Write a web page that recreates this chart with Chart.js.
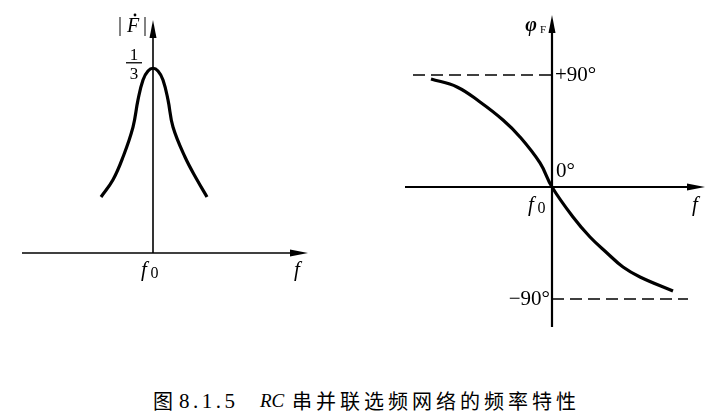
<!DOCTYPE html>
<html>
<head>
<meta charset="utf-8">
<script src="https://cdn.jsdelivr.net/npm/chart.js@4"></script>
<style>
body { margin: 0; background: #fff; width: 723px; height: 419px; position: relative; overflow: hidden; }
.box { position: absolute; top: 0; }
#magBox { left: 0; width: 360px; height: 300px; }
#phaseBox { left: 360px; width: 363px; height: 340px; }
.cap { position: absolute; top: 389px; line-height: 24px; font-size: 20px; color: #000; white-space: nowrap; }
.cjk { font-family: "Noto Sans CJK SC", sans-serif; }
.num { font-family: "Liberation Serif", serif; }
</style>
</head>
<body>
<div class="box" id="magBox"><canvas id="magChart" width="360" height="300"></canvas></div>
<div class="box" id="phaseBox"><canvas id="phaseChart" width="363" height="340"></canvas></div>

<span class="cap cjk" style="left:153px">图</span>
<span class="cap num" style="left:179px;font-size:21px;letter-spacing:3.5px">8.1.5</span>
<span class="cap num" style="left:260px;font-style:italic;font-size:19px">RC</span>
<span class="cap cjk" style="left:292px;letter-spacing:4px">串并联选频网络的频率特性</span>

<script>
// |F| vs f  (f measured from f0, arbitrary units)
const magFreq = [-0.52, -0.40, -0.30, -0.20, -0.15, -0.10, -0.05, 0, 0.05, 0.10, 0.15, 0.20, 0.32, 0.44, 0.54];
const magValue = [0.101, 0.132, 0.173, 0.227, 0.276, 0.312, 0.328, 0.333, 0.328, 0.312, 0.276, 0.227, 0.173, 0.132, 0.101];

// phase vs f (degrees)
const phaseFreq = [-1.21, -0.95, -0.72, -0.49, -0.32, -0.12, 0, 0.21, 0.38, 0.55, 0.71, 0.88, 1.21];
const phaseDeg = [86.8, 80.4, 68.3, 53.8, 40.2, 19.3, 0, -24.1, -40.2, -53.0, -64.3, -72.3, -83.6];

// dashed limits
const plusLimitX = [-1.39, 0];
const minusLimitX = [0, 1.36];
const phaseTicks = ["+90°", "0°", "-90°"];

const serif = "'Liberation Serif', 'Times New Roman', serif";

function arrowHead(ctx, x, y, dir) {
    const len = 18, half = 3.5;
    ctx.beginPath();
    if (dir === "up") {
        ctx.moveTo(x, y); ctx.lineTo(x - half, y + len); ctx.lineTo(x + half, y + len);
    } else {
        ctx.moveTo(x, y); ctx.lineTo(x - len, y - half); ctx.lineTo(x - len, y + half);
    }
    ctx.closePath();
    ctx.fill();
}

function seg(ctx, x1, y1, x2, y2) {
    ctx.beginPath(); ctx.moveTo(x1, y1); ctx.lineTo(x2, y2); ctx.stroke();
}

function fSub(ctx, x, y, size) {
    ctx.font = `italic ${size}px ${serif}`;
    ctx.textAlign = "left";
    ctx.fillText("f", x, y);
    ctx.font = `${Math.round(size * 0.75)}px ${serif}`;
    ctx.fillText("0", x + size * 0.45, y + 4);
}

const axesPlugin = {
    id: "axes",
    beforeDatasetsDraw(chart, args, opts) {
        const { ctx, chartArea: a, scales: { x, y } } = chart;
        const x0 = x.getPixelForValue(0), y0 = y.getPixelForValue(0);
        ctx.save();
        ctx.strokeStyle = "#000"; ctx.fillStyle = "#000";
        ctx.lineWidth = opts.lw;
        seg(ctx, a.left, y0, a.right - 12, y0);
        arrowHead(ctx, a.right, y0, "right");
        seg(ctx, x0, a.bottom, x0, a.top + 12);
        arrowHead(ctx, x0, a.top, "up");
        ctx.restore();
    },
    afterDatasetsDraw(chart, args, opts) {
        const { ctx } = chart;
        ctx.save();
        ctx.fillStyle = "#000";
        ctx.textBaseline = "middle";
        opts.labels(ctx, chart.scales.x, chart.scales.y, chart.chartArea);
        ctx.restore();
    }
};

function magLabels(ctx, x, y, a) {
    const x0 = x.getPixelForValue(0);
    const yPeak = y.getPixelForValue(Math.max(...magValue));
    // |F dot|
    ctx.font = `20px ${serif}`; ctx.textAlign = "center";
    ctx.fillText("|", x0 - 33, 26);
    ctx.fillText("|", x0 - 8, 26);
    ctx.font = `italic 20px ${serif}`;
    ctx.fillText("F", x0 - 20, 27);
    ctx.beginPath(); ctx.arc(x0 - 18, 15, 1.4, 0, Math.PI * 2); ctx.fill();
    // 1/3
    ctx.font = `17px ${serif}`;
    ctx.fillText("1", x0 - 19, yPeak - 13);
    ctx.fillText("3", x0 - 19, yPeak + 6);
    ctx.lineWidth = 1.3;
    seg(ctx, x0 - 27, yPeak - 5.5, x0 - 11, yPeak - 5.5);
    // f0 and f
    const yAx = y.getPixelForValue(0);
    fSub(ctx, x0 - 12, yAx + 17, 21);
    ctx.font = `italic 21px ${serif}`; ctx.textAlign = "center";
    ctx.fillText("f", a.right - 11, yAx + 17);
}

function phaseLabels(ctx, x, y, a) {
    const x0 = x.getPixelForValue(0), y0 = y.getPixelForValue(0);
    ctx.font = `21px ${serif}`;
    ctx.textAlign = "left";
    ctx.fillText(phaseTicks[0], x0 + 3, y.getPixelForValue(90));
    ctx.fillText(phaseTicks[1], x0 + 4, y0 - 16);
    ctx.textAlign = "right";
    ctx.fillText(phaseTicks[2].replace("-", "\u2212"), x0 - 2, y.getPixelForValue(-90));
    // phi_F
    ctx.font = `bold italic 20px ${serif}`; ctx.textAlign = "center";
    ctx.fillText("\u03C6", x0 - 21, 26);
    ctx.font = `11px ${serif}`;
    ctx.fillText("F", x0 - 9, 30);
    // f0 and f
    fSub(ctx, x0 - 24, y0 + 18, 21);
    ctx.font = `italic 21px ${serif}`; ctx.textAlign = "center";
    ctx.fillText("f", a.right - 10, y0 + 18);
}

const curveStyle = {
    borderColor: "#000", borderWidth: 3.2, pointRadius: 0,
    tension: 0.4, fill: false, clip: false
};

const baseOptions = {
    responsive: false,
    animation: false,
    events: [],
    plugins: { legend: { display: false }, tooltip: { enabled: false } }
};

new Chart(document.getElementById("magChart"), {
    type: "line",
    data: {
        datasets: [{ ...curveStyle, data: magFreq.map((f, i) => ({ x: f, y: magValue[i] })) }]
    },
    options: {
        ...baseOptions,
        layout: { padding: { left: 22, right: 52, top: 20, bottom: 47 } },
        scales: {
            x: { type: "linear", min: -1.31, max: 1.55, display: false },
            y: { type: "linear", min: 0, max: 0.42, display: false }
        },
        plugins: { ...baseOptions.plugins, axes: { lw: 1.6, labels: magLabels } }
    },
    plugins: [axesPlugin]
});

const dashStyle = { borderColor: "#000", borderWidth: 1.6, borderDash: [12, 6], pointRadius: 0, fill: false, clip: false };

new Chart(document.getElementById("phaseChart"), {
    type: "line",
    data: {
        datasets: [
            { ...dashStyle, data: plusLimitX.map(f => ({ x: f, y: 90 })) },
            { ...dashStyle, data: minusLimitX.map(f => ({ x: f, y: -90 })) },
            { ...curveStyle, data: phaseFreq.map((f, i) => ({ x: f, y: phaseDeg[i] })) }
        ]
    },
    options: {
        ...baseOptions,
        layout: { padding: { left: 45, right: 18, top: 15, bottom: 13 } },
        scales: {
            x: { type: "linear", min: -1.47, max: 1.53, display: false },
            y: { type: "linear", min: -112.5, max: 138.2, display: false }
        },
        plugins: { ...baseOptions.plugins, axes: { lw: 2.2, labels: phaseLabels } }
    },
    plugins: [axesPlugin]
});
</script>
</body>
</html>
